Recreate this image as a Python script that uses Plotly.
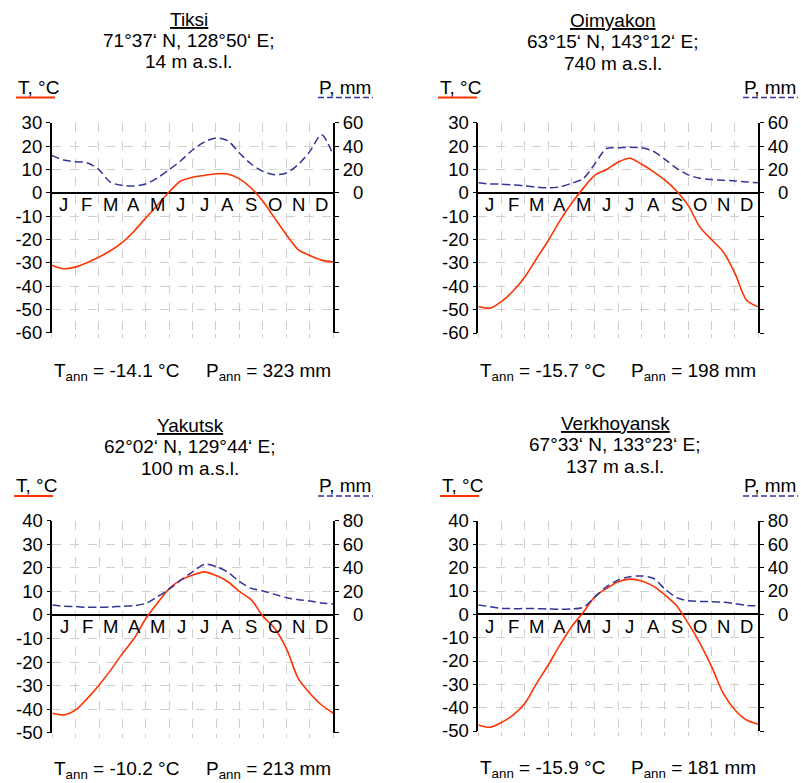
import plotly.graph_objects as go

W, H = 801, 783
FONT = "Liberation Sans, Arial, sans-serif"

# ---------------- data ----------------
MONTHS = ["J", "F", "M", "A", "M", "J", "J", "A", "S", "O", "N", "D"]
MONTH_CENTERS = [0.5, 1.5, 2.5, 3.5, 4.5, 5.5, 6.5, 7.5, 8.5, 9.5, 10.5, 11.5]
# positions along the year (in months) at which the curves were read
X = [0, 0.5, 1, 1.5, 2, 2.5, 3, 3.5, 4, 4.5, 5, 5.5, 6,
     6.5, 7, 7.5, 8, 8.5, 9, 9.5, 10, 10.5, 11, 11.5, 12]

STATIONS = ["Tiksi", "Oimyakon", "Yakutsk", "Verkhoyansk"]
COORDS = ["71°37‘ N, 128°50‘ E;", "63°15‘ N, 143°12‘ E;",
          "62°02‘ N, 129°44‘ E;", "67°33‘ N, 133°23‘ E;"]
ELEVATION = ["14 m a.s.l.", "740 m a.s.l.", "100 m a.s.l.", "137 m a.s.l."]
T_ANN = ["-14.1", "-15.7", "-10.2", "-15.9"]
P_ANN = ["323", "198", "213", "181"]

tiksi_T = [-31.1, -32.6, -31.9, -30.0, -27.7, -24.9, -21.4, -16.6, -10.9, -5.4, 0.3, 5.0, 6.6,
           7.4, 8.1, 8.0, 5.9, 2.0, -3.7, -10.9, -18.0, -24.4, -26.9, -28.9, -29.7]
tiksi_P = [32.0, 28.0, 26.6, 25.7, 20.0, 9.0, 6.3, 5.7, 7.4, 12.6, 19.7, 27.4, 36.6,
           43.4, 46.9, 44.6, 34.0, 24.6, 18.3, 15.4, 16.9, 24.0, 35.4, 49.7, 32.0]
oimyakon_T = [-48.7, -49.4, -46.5, -41.9, -35.9, -28.1, -20.4, -11.9, -4.5, 2.0, 7.6, 10.0, 13.2,
              14.8, 12.2, 9.1, 5.4, 0.8, -5.5, -14.7, -20.1, -25.3, -34.5, -46.0, -48.8]
oimyakon_P = [8.5, 7.6, 7.4, 6.8, 5.9, 4.8, 4.2, 5.1, 8.2, 12.2, 25.0, 37.9, 38.5,
              39.0, 38.5, 35.6, 28.6, 20.9, 15.3, 12.4, 11.3, 10.7, 10.2, 9.3, 8.5]
yakutsk_T = [-41.7, -42.4, -40.3, -35.4, -29.7, -23.3, -16.3, -9.9, -1.4, 5.2, 11.3, 14.9, 17.0,
             18.3, 16.7, 14.1, 9.9, 6.4, -0.6, -5.7, -14.3, -26.9, -33.2, -38.2, -41.7]
yakutsk_P = [8.5, 7.4, 7.1, 6.5, 6.5, 6.8, 7.4, 7.9, 9.9, 15.6, 22.0, 29.7, 36.8,
             43.0, 41.0, 36.2, 28.3, 22.6, 20.4, 17.5, 14.7, 13.0, 11.9, 10.2, 9.3]
verkh_T = [-47.4, -48.4, -46.3, -43.1, -38.1, -29.6, -21.7, -13.1, -5.3, 0.9, 7.6, 11.1, 14.0,
           15.1, 14.3, 12.1, 8.3, 3.7, -3.9, -12.4, -22.4, -33.9, -41.0, -45.3, -47.1]
verkh_P = [8.0, 6.6, 5.1, 4.9, 4.9, 4.9, 4.6, 4.3, 4.6, 6.0, 15.0, 23.7, 29.4,
           32.3, 32.9, 30.9, 21.7, 14.3, 11.7, 11.1, 10.9, 10.3, 9.1, 7.7, 7.4]

TEMPS = [tiksi_T, oimyakon_T, yakutsk_T, verkh_T]
PRECS = [tiksi_P, oimyakon_P, yakutsk_P, verkh_P]
T_TICKS = [[-60, -50, -40, -30, -20, -10, 0, 10, 20, 30],
           [-60, -50, -40, -30, -20, -10, 0, 10, 20, 30],
           [-50, -40, -30, -20, -10, 0, 10, 20, 30, 40],
           [-50, -40, -30, -20, -10, 0, 10, 20, 30, 40]]
P_TICKS = [[-120, -100, -80, -60, -40, -20, 0, 20, 40, 60],
           [-120, -100, -80, -60, -40, -20, 0, 20, 40, 60],
           [-100, -80, -60, -40, -20, 0, 20, 40, 60, 80],
           [-100, -80, -60, -40, -20, 0, 20, 40, 60, 80]]

# ---------------- layout (pixels) ----------------
PANELS = [
    dict(x0=51.7, x1=333.3, yt=122.7, yb=332.7, cx=189, ty=(20, 41, 62),
         tlx=16, plx=373, ly=87.5, uly=97.5, ay=372),
    dict(x0=478.3, x1=758.3, yt=122.7, yb=333.0, cx=613, ty=(20.5, 41.5, 63),
         tlx=438, plx=798, ly=87.5, uly=97.5, ay=372),
    dict(x0=52.3, x1=333.3, yt=520.7, yb=732.8, cx=190, ty=(425, 446.5, 468),
         tlx=14, plx=373, ly=485, uly=496, ay=770),
    dict(x0=478.3, x1=758.3, yt=521.0, yb=731.0, cx=615, ty=(423.5, 445, 466.5),
         tlx=440, plx=798, ly=485, uly=496, ay=769),
]

RED = "#ff3300"
BLUE = "#333399"
GRID = "#cfcfcf"


def px(x):
    return x / W


def py(y):
    return 1 - y / H


fig = go.Figure()
annotations = []
shapes = []
layout = dict(width=W, height=H, autosize=False,
              margin=dict(l=0, r=0, t=0, b=0, pad=0, autoexpand=False),
              paper_bgcolor="white", plot_bgcolor="white",
              showlegend=False, font=dict(family=FONT, color="black", size=18.5))

for i, p in enumerate(PANELS):
    xn = i + 1
    yt_n = 2 * i + 1
    yp_n = 2 * i + 2
    xa = "x" if xn == 1 else f"x{xn}"
    ya_t = "y" if yt_n == 1 else f"y{yt_n}"
    ya_p = f"y{yp_n}"

    fig.add_trace(go.Scatter(x=X, y=PRECS[i], mode="lines", xaxis=xa, yaxis=ya_p,
                             line=dict(color=BLUE, width=1.5, dash="8px,4px",
                                       shape="spline", smoothing=0.8),
                             hoverinfo="skip"))
    fig.add_trace(go.Scatter(x=X, y=TEMPS[i], mode="lines", xaxis=xa, yaxis=ya_t,
                             line=dict(color=RED, width=1.6, shape="spline", smoothing=0.8),
                             hoverinfo="skip"))

    tt = T_TICKS[i]
    pt = P_TICKS[i]
    p_major = [v for v in pt if v >= 0]
    p_minor = [v for v in pt if v < 0]
    ptext = ["\u2007" + str(v) if v == 0 else str(v) for v in p_major]

    layout[f"xaxis{'' if xn == 1 else xn}"] = dict(
        domain=[px(p["x0"]), px(p["x1"])], range=[0, 12], anchor=ya_t,
        tickvals=list(range(0, 13)), showticklabels=False,
        showgrid=True, gridcolor=GRID, griddash="dash", gridwidth=1,
        ticks="outside", ticklen=4, tickcolor=GRID,
        showline=False, zeroline=False, fixedrange=True)
    layout[f"yaxis{'' if yt_n == 1 else yt_n}"] = dict(
        domain=[py(p["yb"]), py(p["yt"])], range=[tt[0], tt[-1]], anchor=xa,
        tickvals=tt, ticktext=[str(v) for v in tt],
        tickfont=dict(size=18.5, family=FONT, color="black"),
        showgrid=True, gridcolor=GRID, griddash="dash", gridwidth=1,
        zeroline=True, zerolinecolor="black", zerolinewidth=1.6,
        showline=True, linecolor="black", linewidth=1.6,
        ticks="outside", ticklen=4, tickcolor="black", tickwidth=1.2,
        fixedrange=True)
    layout[f"yaxis{yp_n}"] = dict(
        overlaying=ya_t, side="right", anchor=xa, range=[pt[0], pt[-1]],
        tickvals=p_major, ticktext=ptext,
        tickfont=dict(size=18.5, family=FONT, color="black"),
        minor=dict(tickvals=p_minor, ticks="outside", ticklen=4, tickcolor="black",
                   tickwidth=1.2, showgrid=False),
        showgrid=False, zeroline=False,
        showline=True, linecolor="black", linewidth=1.6,
        ticks="outside", ticklen=4, tickcolor="black", tickwidth=1.2,
        fixedrange=True)

    # month labels just below the zero line
    for m, c in zip(MONTHS, MONTH_CENTERS):
        annotations.append(dict(x=c, y=0, xref=xa, yref=ya_t, text=m, showarrow=False,
                                xanchor="center", yanchor="middle", yshift=-12,
                                font=dict(size=18.5, family=FONT, color="black")))

    # titles
    for txt, yy in zip([f"<u>{STATIONS[i]}</u>", COORDS[i], ELEVATION[i]], p["ty"]):
        annotations.append(dict(x=px(p["cx"]), y=py(yy), xref="paper", yref="paper",
                                text=txt, showarrow=False, xanchor="center", yanchor="middle",
                                font=dict(size=19, family=FONT, color="black")))

    # axis captions
    annotations.append(dict(x=px(p["tlx"]), y=py(p["ly"]), xref="paper", yref="paper",
                            text="T, °C", showarrow=False, xanchor="left", yanchor="middle",
                            font=dict(size=19, family=FONT, color="black")))
    annotations.append(dict(x=px(p["plx"]), y=py(p["ly"]), xref="paper", yref="paper",
                            text="P, mm", showarrow=False, xanchor="right", yanchor="middle",
                            font=dict(size=19, family=FONT, color="black")))
    shapes.append(dict(type="line", xref="paper", yref="paper",
                       x0=px(p["tlx"]), x1=px(p["tlx"] + 39), y0=py(p["uly"]), y1=py(p["uly"]),
                       line=dict(color=RED, width=2)))
    shapes.append(dict(type="line", xref="paper", yref="paper",
                       x0=px(p["plx"] - 55), x1=px(p["plx"]), y0=py(p["uly"]), y1=py(p["uly"]),
                       line=dict(color=BLUE, width=1.6, dash="6px,3px")))

    # annual values
    annotations.append(dict(x=px(p["x0"]), y=py(p["ay"]), xref="paper", yref="paper",
                            text=f"T<sub>ann</sub> = {T_ANN[i]} °C", showarrow=False,
                            xanchor="left", yanchor="middle",
                            font=dict(size=19, family=FONT, color="black")))
    annotations.append(dict(x=px(p["x1"]), y=py(p["ay"]), xref="paper", yref="paper",
                            text=f"P<sub>ann</sub> = {P_ANN[i]} mm", showarrow=False,
                            xanchor="right", yanchor="middle",
                            font=dict(size=19, family=FONT, color="black")))

layout["annotations"] = annotations
layout["shapes"] = shapes
fig.update_layout(**layout)
fig.write_html("out.html", config={"displayModeBar": False})
